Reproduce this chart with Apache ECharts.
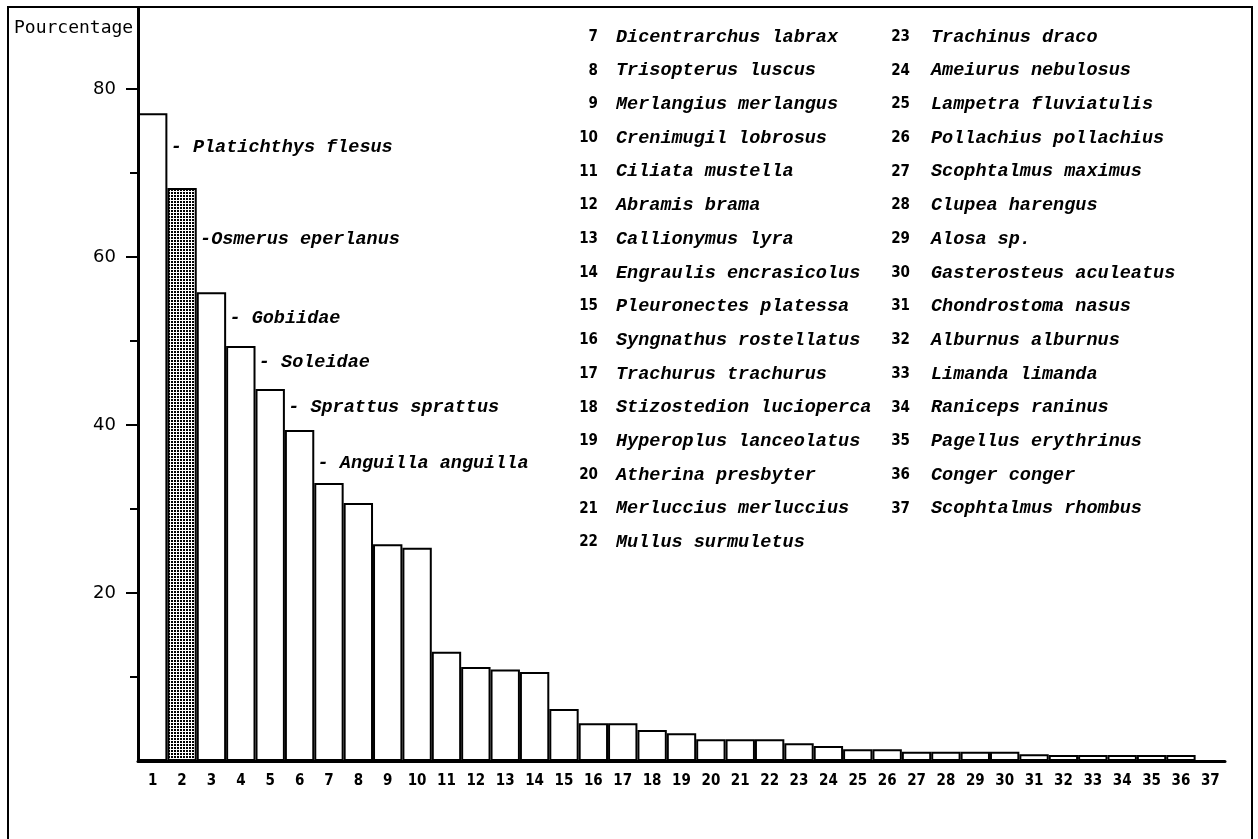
<!DOCTYPE html>
<html>
<head>
<meta charset="utf-8">
<script src="https://cdn.jsdelivr.net/npm/echarts@6/dist/echarts.min.js"></script>
<style>
html,body{margin:0;padding:0;background:#fff;}
#chart{width:1258px;height:839px;}
</style>
</head>
<body>
<div id="chart"></div>
<script>
// ---- data ----
var categories = ['1','2','3','4','5','6','7','8','9','10','11','12','13','14','15','16','17','18','19','20','21','22','23','24','25','26','27','28','29','30','31','32','33','34','35','36','37'];
var percentages = [77.1, 68.2, 55.8, 49.4, 44.3, 39.4, 33.1, 30.7, 25.8, 25.4, 13.0, 11.2, 10.9, 10.6, 6.2, 4.5, 4.5, 3.7, 3.3, 2.6, 2.6, 2.6, 2.1, 1.8, 1.4, 1.4, 1.1, 1.1, 1.1, 1.1, 0.8, 0.7, 0.7, 0.7, 0.7, 0.7, 0];
var yLabelTicks = [20, 40, 60, 80];
var yMinorTicks = [10, 30, 50, 70];
var annotatedNames = ['Platichthys flesus', 'Osmerus eperlanus', 'Gobiidae', 'Soleidae', 'Sprattus sprattus', 'Anguilla anguilla'];
var annotationLevels = [73.1, 62.1, 52.7, 47.4, 42.1, 35.4];
var legendNumbersCol1 = ['7','8','9','10','11','12','13','14','15','16','17','18','19','20','21','22'];
var legendNamesCol1 = ['Dicentrarchus labrax','Trisopterus luscus','Merlangius merlangus','Crenimugil lobrosus','Ciliata mustella','Abramis brama','Callionymus lyra','Engraulis encrasicolus','Pleuronectes platessa','Syngnathus rostellatus','Trachurus trachurus','Stizostedion lucioperca','Hyperoplus lanceolatus','Atherina presbyter','Merluccius merluccius','Mullus surmuletus'];
var legendNumbersCol2 = ['23','24','25','26','27','28','29','30','31','32','33','34','35','36','37'];
var legendNamesCol2 = ['Trachinus draco','Ameiurus nebulosus','Lampetra fluviatulis','Pollachius pollachius','Scophtalmus maximus','Clupea harengus','Alosa sp.','Gasterosteus aculeatus','Chondrostoma nasus','Alburnus alburnus','Limanda limanda','Raniceps raninus','Pagellus erythrinus','Conger conger','Scophtalmus rhombus'];
var highlightedIndex = 1;

// ---- styling ----
var italicFont = '"Liberation Mono", "DejaVu Sans Mono", monospace';
var numFont = '"Liberation Sans Narrow", "DejaVu Sans Condensed", "Liberation Sans", sans-serif';

var tile = document.createElement('canvas');
tile.width = 3; tile.height = 3;
var tctx = tile.getContext('2d');
tctx.fillStyle = '#fff'; tctx.fillRect(0,0,3,3);
tctx.fillStyle = '#000'; tctx.fillRect(0,0,2,2);

var GRID_TOP = 8, GRID_BOTTOM = 78;
var plotH = 839 - GRID_TOP - GRID_BOTTOM;
var yMax = plotH / 8.4;

var barData = percentages.map(function(v, i){
  var item = {value: v};
  if (i === highlightedIndex) item.itemStyle = {color: {image: tile, repeat: 'repeat'}};
  return item;
});

var annData = annotatedNames.map(function(n, i){
  return {value: [i, annotationLevels[i]], label: {formatter: (i === 1 ? '-' : '- ') + n}};
});

var graphics = [
  {type: 'rect', shape: {x: 8, y: 7, width: 1244, height: 840}, style: {fill: 'none', stroke: '#000', lineWidth: 2}, silent: true},
  {type: 'text', x: 14, y: 28, style: {text: 'Pourcentage', verticalAlign: 'middle', font: '18px "DejaVu Sans Mono", monospace', fill: '#000'}}
];
var rowH = 33.7, row0 = 37;
legendNumbersCol1.forEach(function(n, i){
  graphics.push({type: 'text', x: 598, y: row0 + i*rowH, style: {text: n, align: 'right', verticalAlign: 'middle', font: 'bold 15px ' + numFont, fill: '#000'}});
  graphics.push({type: 'text', x: 616, y: row0 + i*rowH, style: {text: legendNamesCol1[i], align: 'left', verticalAlign: 'middle', font: 'italic bold 18.5px ' + italicFont, fill: '#000'}});
});
legendNumbersCol2.forEach(function(n, i){
  graphics.push({type: 'text', x: 910, y: row0 + i*rowH, style: {text: n, align: 'right', verticalAlign: 'middle', font: 'bold 15px ' + numFont, fill: '#000'}});
  graphics.push({type: 'text', x: 931, y: row0 + i*rowH, style: {text: legendNamesCol2[i], align: 'left', verticalAlign: 'middle', font: 'italic bold 18.5px ' + italicFont, fill: '#000'}});
});

var chart = echarts.init(document.getElementById('chart'), null, {renderer: 'canvas'});
chart.setOption({
  animation: false,
  backgroundColor: '#fff',
  grid: {left: 138, right: 33, top: GRID_TOP, bottom: GRID_BOTTOM, containLabel: false},
  xAxis: {
    type: 'category', data: categories, boundaryGap: true,
    axisLine: {lineStyle: {color: '#000', width: 3}},
    axisTick: {show: false},
    axisLabel: {color: '#000', fontSize: 15, fontWeight: 'bold', fontFamily: numFont, margin: 13, interval: 0}
  },
  yAxis: [{
    type: 'value', min: 0, max: yMax,
    axisLine: {show: true, lineStyle: {color: '#000', width: 3}},
    axisTick: {show: true, length: 12, lineStyle: {color: '#000', width: 2}, customValues: yLabelTicks},
    axisLabel: {color: '#000', fontSize: 18, fontFamily: '"DejaVu Sans", sans-serif', margin: 22, customValues: yLabelTicks},
    splitLine: {show: false}
  }, {
    type: 'value', min: 0, max: yMax, position: 'left',
    axisLine: {show: false},
    axisTick: {show: true, length: 8, lineStyle: {color: '#000', width: 2}, customValues: yMinorTicks},
    axisLabel: {show: false},
    splitLine: {show: false}
  }],
  series: [{
    type: 'bar', data: barData, barCategoryGap: 0, barGap: 0,
    itemStyle: {color: '#fff', borderColor: '#000', borderWidth: 2},
    silent: true
  }, {
    type: 'scatter', data: annData, symbolSize: 0, silent: true,
    itemStyle: {opacity: 1, color: '#000'},
    label: {show: true, position: 'right', distance: 18, color: '#000', opacity: 1, fontFamily: italicFont, fontStyle: 'italic', fontWeight: 'bold', fontSize: 18.5}
  }],
  graphic: graphics
});
</script>
</body>
</html>
